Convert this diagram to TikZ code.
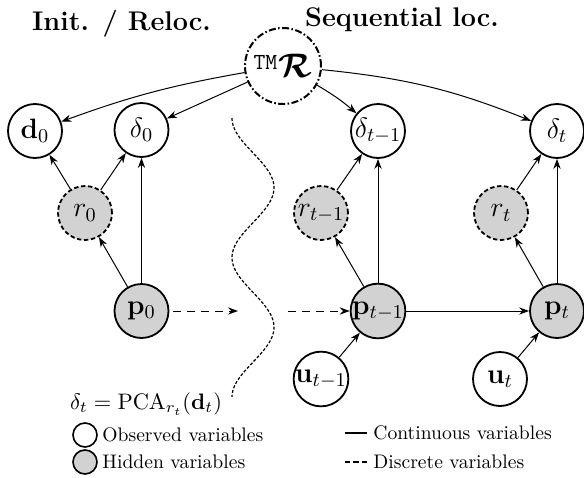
\RequirePackage{fix-cm}
\documentclass[tikz,border=0pt]{standalone}
\usepackage{amsmath}
\usetikzlibrary{arrows.meta}
\tikzset{
  var/.style={circle, draw, line width=0.9pt, minimum size=27pt, inner sep=0pt,
    font=\fontsize{14}{16}\selectfont},
  obs/.style={var, fill=white},
  hid/.style={var, fill=gray!35},
  disc/.style={hid, dash pattern=on 2.2pt off 1.3pt},
  rmod/.style={circle, draw, line width=1pt, minimum size=38pt, inner sep=0pt,
    dash pattern=on 3.5pt off 1.2pt on 0.8pt off 1.2pt, font=\fontsize{17}{19}\selectfont},
  edge/.style={line width=0.5pt, -{Stealth[length=5pt,width=3.6pt]}},
  dedge/.style={edge, dash pattern=on 4pt off 3pt},
  wave/.style={line width=0.6pt, dash pattern=on 1.5pt off 0.9pt},
  title/.style={font=\fontsize{13.5}{16}\selectfont\bfseries, anchor=base, inner sep=0pt},
  legtext/.style={font=\fontsize{9.8}{12}\selectfont, anchor=west, inner sep=0pt},
  legcirc/.style={circle, draw, line width=0.8pt, minimum size=12pt, inner sep=0pt},
}
\begin{document}
\begin{tikzpicture}[x=0.5pt, y=-0.5pt]
\useasboundingbox (0,0) rectangle (584,477);

% titles
\node[title] (t1) at (121.5,30) {Init. / Reloc.};
\node[title] (t2) at (402,26) {Sequential loc.};

% top node
\node[rmod] (R) at (283,66) {\raisebox{4pt}{\fontsize{11.5}{12}\selectfont\ttfamily TM}\kern0.8pt$\boldsymbol{\mathcal{R}}$};

% init part
\node[obs] (d0) at (35,131) {$\mathbf{d}_0$};
\node[obs] (del0) at (141.5,130) {$\delta_0$};
\node[disc] (r0) at (85,213) {$r_0$};
\node[hid] (p0) at (141.5,311) {$\mathbf{p}_0$};

% sequential part
\node[obs] (delA) at (378,131) {$\delta_{t-1}$};
\node[disc] (rA) at (321,213) {$r_{t-1}$};
\node[hid] (pA) at (378,311) {$\mathbf{p}_{t-1}$};
\node[obs] (uA) at (321,379) {$\mathbf{u}_{t-1}$};

\node[obs] (delB) at (557,131) {$\delta_t$};
\node[disc] (rB) at (501,213) {$r_t$};
\node[hid] (pB) at (557,311) {$\mathbf{p}_t$};
\node[obs] (uB) at (500,379) {$\mathbf{u}_t$};

% edges from R
\draw[edge] (R) to[bend right=5] (d0);
\draw[edge] (R) -- (del0);
\draw[edge] (R) to[bend left=5] (delA);
\draw[edge] (R) to[bend left=8] (delB);

% init edges
\draw[edge] (r0) -- (d0);
\draw[edge] (r0) -- (del0);
\draw[edge] (p0) -- (r0);
\draw[edge] (p0) -- (del0);

% sequential edges
\draw[edge] (rA) -- (delA);
\draw[edge] (pA) -- (rA);
\draw[edge] (pA) -- (delA);
\draw[edge] (uA) -- (pA);
\draw[edge] (rB) -- (delB);
\draw[edge] (pB) -- (rB);
\draw[edge] (pB) -- (delB);
\draw[edge] (uB) -- (pB);
\draw[edge] (pA) -- (pB);

% dashed transitions across the break
\coordinate (c1) at (238,311);
\coordinate (c2) at (288,311);
\draw[dedge, shorten <=2pt] (p0) -- (c1);
\draw[dedge] (c2) -- (pA);

% wavy separator
\draw[wave] plot[domain=0:4, samples=120, smooth] ({253-21*cos(180*\x)}, {118+69.75*\x});

% legend
\node[font=\fontsize{11.2}{13}\selectfont, inner sep=0pt] (pca) at (146,404) {$\delta_t = \mathrm{PCA}_{r_t}(\mathbf{d}_t)$};
\node[legcirc, fill=white] (lc1) at (85,435) {};
\node[legtext] (lt1) at (102,435) {Observed variables};
\node[legcirc, fill=gray!35] (lc2) at (85,462) {};
\node[legtext] (lt2) at (102,462) {Hidden variables};

\coordinate (ls1) at (345,433);
\coordinate (le1) at (367,433);
\draw[line width=1.2pt] (ls1) -- (le1);
\node[legtext] (lt3) at (373,433) {Continuous variables};
\coordinate (ls2) at (345,462);
\coordinate (le2) at (367,462);
\draw[line width=1.1pt, dash pattern=on 2.6pt off 1.6pt] (ls2) -- (le2);
\node[legtext] (lt4) at (373,462) {Discrete variables};
\end{tikzpicture}
\end{document}
